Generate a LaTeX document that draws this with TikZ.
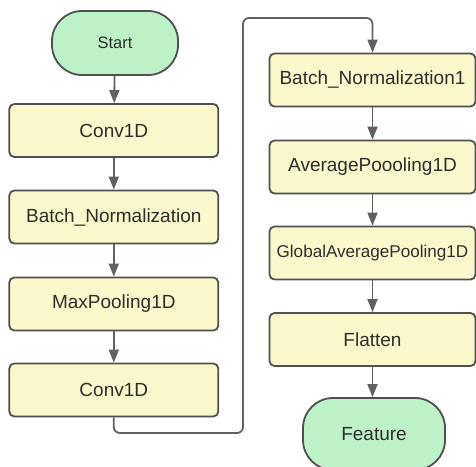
\documentclass[tikz,border=0pt]{standalone}
\usepackage{fontspec}
\setmainfont{Liberation Sans}
\usetikzlibrary{arrows.meta}

\definecolor{layerfill}{HTML}{FBF8CB}
\definecolor{termfill}{HTML}{BDF2C9}
\definecolor{edgegray}{HTML}{505050}
\definecolor{linkgray}{HTML}{616161}
\definecolor{textgray}{HTML}{2E2E2E}

\tikzset{
  layer/.style={draw=edgegray, line width=1.8pt, fill=layerfill, rounded corners=5pt,
    inner sep=0pt, text=textgray, font=\fontsize{19}{23}\selectfont},
  leftlayer/.style={layer, minimum width=209pt, minimum height=53pt},
  rightlayer/.style={layer, minimum width=206pt, minimum height=53pt},
  terminal/.style={draw=edgegray, line width=1.8pt, fill=termfill, rounded corners=30pt,
    inner sep=0pt, text=textgray},
  link/.style={draw=linkgray, line width=1.8pt, -{Triangle[length=13pt,width=10pt]}}
}

\begin{document}
\begin{tikzpicture}[x=1pt, y=-1pt]
  \useasboundingbox (0,0) rectangle (476,466);
  \clip (0,0) rectangle (476,466);

  % left column
  \node[terminal, minimum width=126pt, minimum height=64pt, font=\fontsize{16.5}{20}\selectfont] (start) at (115,43) {Start};
  \node[leftlayer] (conv1) at (113.8,130.5) {Conv1D};
  \node[leftlayer] (bn) at (113.8,217) {Batch\_Normalization};
  \node[leftlayer] (maxpool) at (113.8,304) {MaxPooling1D};
  \node[leftlayer] (conv2) at (113.8,390) {Conv1D};

  % right column
  \node[rightlayer] (bn1) at (372.5,80) {Batch\_Normalization1};
  \node[rightlayer] (avgpool) at (372.5,167) {AveragePoooling1D};
  \node[rightlayer, font=\fontsize{17.1}{21}\selectfont] (gap) at (372.5,253) {GlobalAveragePooling1D};
  \node[rightlayer] (flat) at (372.5,339.5) {Flatten};
  \node[terminal, minimum width=142pt, minimum height=72pt, font=\fontsize{19}{23}\selectfont] (feat) at (374,434) {Feature};

  % links
  \draw[link] (start) -- (conv1);
  \draw[link] (conv1) -- (bn);
  \draw[link] (bn) -- (maxpool);
  \draw[link] (maxpool) -- (conv2);

  \coordinate (lowbend) at (243,433);
  \coordinate (highbend) at (243,18);
  \draw[link, rounded corners=6pt] (conv2.south) |- (lowbend) -- (highbend) -| (bn1.north);

  \draw[link] (bn1) -- (avgpool);
  \draw[link] (avgpool) -- (gap);
  \draw[link] (gap) -- (flat);
  \draw[link] (flat.south) -- (flat.south |- feat.north);
\end{tikzpicture}
\end{document}
